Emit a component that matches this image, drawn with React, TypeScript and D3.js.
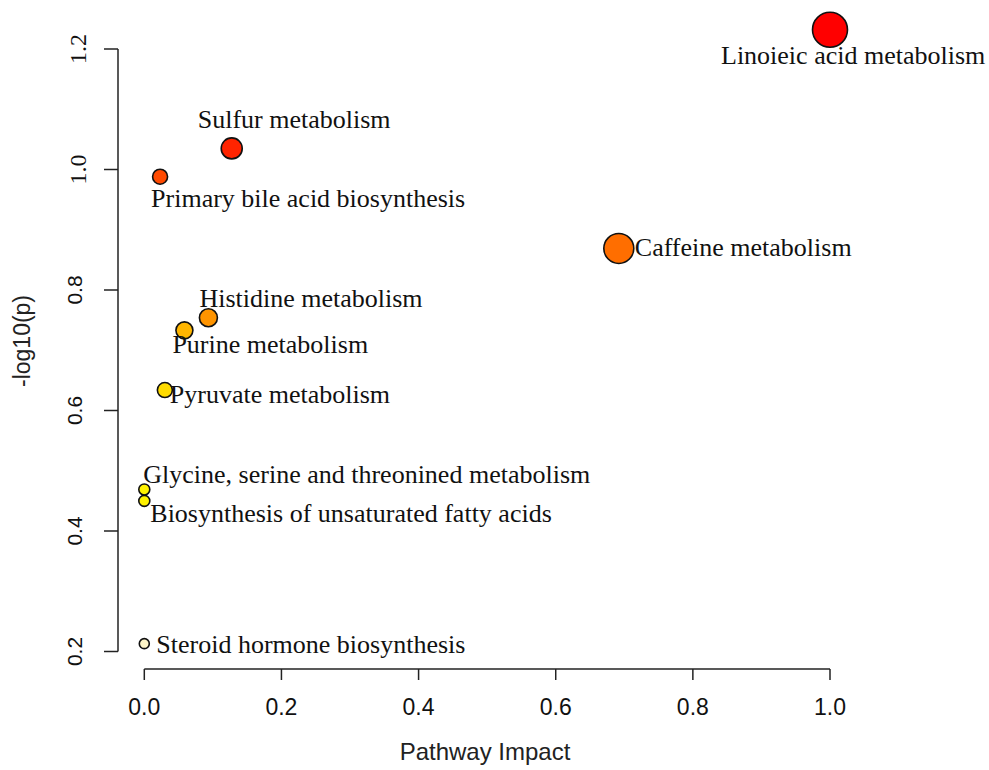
import React from "react";
import * as d3 from "d3";

const pathways = [
  "Linoieic acid metabolism",
  "Sulfur metabolism",
  "Primary bile acid biosynthesis",
  "Caffeine metabolism",
  "Histidine metabolism",
  "Purine metabolism",
  "Pyruvate metabolism",
  "Glycine, serine and threonined metabolism",
  "Biosynthesis of unsaturated fatty acids",
  "Steroid hormone biosynthesis",
];
const impact = [1.0, 0.1275, 0.023, 0.692, 0.0935, 0.0585, 0.03, 0.0, 0.0, 0.0];
const logP = [1.232, 1.035, 0.988, 0.869, 0.754, 0.733, 0.634, 0.469, 0.45, 0.213];
const bubbleSize = [17.5, 10.5, 7.5, 15, 9, 8.5, 7.5, 5.5, 5.5, 5];
const fills = [
  "#FF0000",
  "#FF2400",
  "#FF4A00",
  "#FF6E00",
  "#FF9400",
  "#FFB600",
  "#FFDB00",
  "#FFF200",
  "#FFF200",
  "#FFF6C8",
];
// label placement relative to each bubble (dx, dy of text start/baseline)
const labelDx = [-109, -34, -9, 16, -9, -12, 5, -1, 6, 12];
const labelDy = [34, -20, 30, 8, -11, 23, 13, -6, 21, 9];

const xTicks = [0, 0.2, 0.4, 0.6, 0.8, 1.0];
const yTicks = [0.2, 0.4, 0.6, 0.8, 1.0, 1.2];
const serifYTicks = [1.0, 1.2];

const W = 989;
const H = 770;

export default function App() {
  const x = d3.scaleLinear().domain([0, 1]).range([144.3, 830]);
  const y = d3.scaleLinear().domain([0.2, 1.2]).range([651.5, 49]);
  const axisY = 669;
  const axisX = 118;
  const sans = "'Liberation Sans', Arial, sans-serif";
  const serif = "'Liberation Serif', 'Times New Roman', serif";

  return (
    <svg
      width={W}
      height={H}
      style={{ position: "absolute", left: 0, top: 0, background: "#fff" }}
    >
      <rect width={W} height={H} fill="#fff" />
      {/* x axis */}
      <line x1={x(0)} x2={x(1)} y1={axisY} y2={axisY} stroke="#222" strokeWidth={1.5} />
      {xTicks.map((t) => (
        <g key={"xt" + t}>
          <line x1={x(t)} x2={x(t)} y1={axisY} y2={axisY + 11} stroke="#222" strokeWidth={1.5} />
          <text
            x={x(t)}
            y={715}
            textAnchor="middle"
            fontFamily={sans}
            fontSize={23}
            fill="#111"
          >
            {d3.format(".1f")(t)}
          </text>
        </g>
      ))}
      <text x={485} y={760} textAnchor="middle" fontFamily={sans} fontSize={24} fill="#222">
        Pathway Impact
      </text>

      {/* y axis */}
      <line x1={axisX} x2={axisX} y1={y(0.2)} y2={y(1.2)} stroke="#222" strokeWidth={1.5} />
      {yTicks.map((t) => {
        const isSerif = serifYTicks.includes(t);
        return (
          <g key={"yt" + t}>
            <line x1={axisX - 14} x2={axisX} y1={y(t)} y2={y(t)} stroke="#222" strokeWidth={1.5} />
            <text
              transform={`translate(${isSerif ? 86 : 82},${y(t)}) rotate(-90)`}
              textAnchor="middle"
              fontFamily={isSerif ? serif : sans}
              fontSize={isSerif ? 24 : 21}
              fill="#111"
            >
              {d3.format(".1f")(t)}
            </text>
          </g>
        );
      })}
      <text
        transform={`translate(30,341) rotate(-90)`}
        textAnchor="middle"
        fontFamily={sans}
        fontSize={23}
        fill="#222"
      >
        -log10(p)
      </text>

      {/* bubbles */}
      {pathways.map((p, i) => (
        <circle
          key={"c" + p}
          cx={x(impact[i])}
          cy={y(logP[i])}
          r={bubbleSize[i]}
          fill={fills[i]}
          stroke="#111"
          strokeWidth={1.6}
        />
      ))}
      {/* labels */}
      {pathways.map((p, i) => (
        <text
          key={"l" + p}
          x={x(impact[i]) + labelDx[i]}
          y={y(logP[i]) + labelDy[i]}
          fontFamily={serif}
          fontSize={26}
          fill="#111"
        >
          {p}
        </text>
      ))}
    </svg>
  );
}
